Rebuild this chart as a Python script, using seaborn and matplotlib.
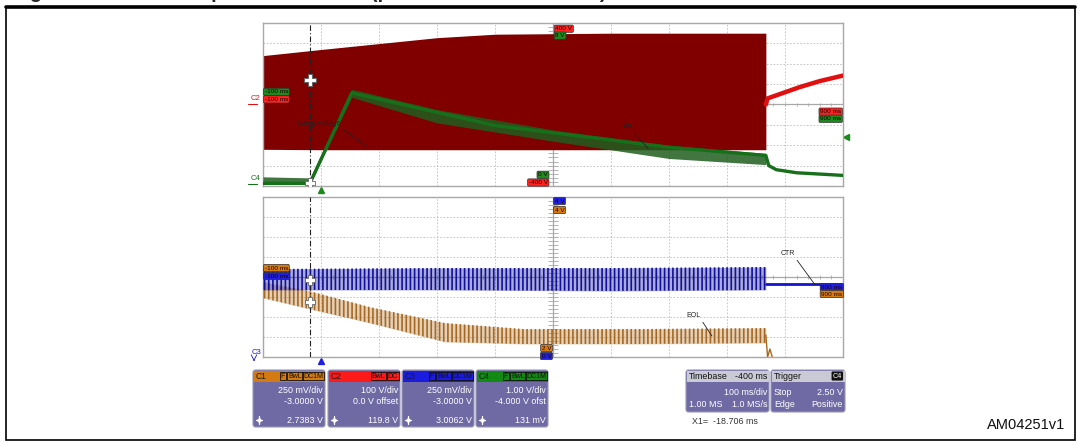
"""
    Scope capture: lamp ramp / CTR / EOL behaviour, redrawn with seaborn + matplotlib
"""
import numpy as np
import seaborn as sns
import matplotlib.pyplot as plt
from matplotlib.patches import FancyBboxPatch, Rectangle

# x = time in ms (100 ms/div, centre -400 ms), y = screen divisions (-4..4)
# upper screen
red_t = [-900, -800, -700, -600, -500, -300, -33]
red_top = [2.40, 2.70, 2.99, 3.28, 3.45, 3.50, 3.50]
red_bot = [-2.20, -2.22, -2.22, -2.22, -2.22, -2.22, -2.22]
red_tail_t = [-33, -30, 0, 25, 60, 100]
red_tail_v = [0.0, 0.30, 0.60, 0.85, 1.15, 1.42]

green_t = [-900, -819, -747, -500, -200, -33, -28, -15, 20, 100]
green_v = [-3.87, -3.87, 0.57, -1.03, -2.10, -2.50, -3.00, -3.20, -3.35, -3.48]
gnoise_t = [-900, -819, -747, -600, -400, -200, -33]
gnoise_hi = [-3.55, -3.60, 0.75, -0.25, -1.25, -2.00, -2.40]
gnoise_lo = [-3.90, -3.90, 0.35, -0.90, -1.80, -2.65, -2.95]

# lower screen
blue_t = [-900, -600, -300, -33]
blue_top = [0.40, 0.45, 0.45, 0.50]
blue_bot = [-0.65, -0.65, -0.70, -0.65]
blue_tail_t = [-33, 100]
blue_tail_v = [-0.35, -0.35]

brown_t = [-900, -820, -716, -586, -450, -250, -33]
brown_top = [-0.25, -0.70, -1.50, -2.30, -2.60, -2.60, -2.55]
brown_bot = [-1.05, -1.60, -2.30, -3.25, -3.35, -3.35, -3.30]
brown_tail_t = [-33, -30, -26, -22]
brown_tail_v = [-2.90, -4.00, -3.60, -4.00]

cursor_t = -819

# channel boxes
ch_names = ['C1', 'C2', 'C3', 'C4']
ch_flags = ['F BwL DC1M', 'BwL DC', 'F BwL DC1M', 'F BwL DC1M']
ch_scale = ['250 mV/div', '100 V/div', '250 mV/div', '1.00 V/div']
ch_offset = ['-3.0000 V', '0.0 V offset', '-3.0000 V', '-4.000 V ofst']
ch_meas = ['2.7383 V', '119.8 V', '3.0062 V', '131 mV']
ch_colors = ['#d47a12', '#ff1a1a', '#1c1ce0', '#138a13']

RED_DK = '#800000'
RED = '#e01010'
GREEN = '#16701a'
BLUE = '#10109a'
BROWN = '#a8691f'
PURPLE = '#6f6aa4'

sns.set_style('white')
plt.rcParams['font.family'] = ['Liberation Sans', 'DejaVu Sans']
plt.rcParams['hatch.linewidth'] = 1.2

W, H = 1080, 444
fig = plt.figure(figsize=(W / 100, H / 100), dpi=100)

# overlay in pixel coordinates for frame, labels and info boxes
ov = fig.add_axes([0, 0, 1, 1], zorder=0)
ov.set_xlim(0, W)
ov.set_ylim(H, 0)
ov.axis('off')


def px_axes(x0, y0, x1, y1):
    return fig.add_axes([x0 / W, 1 - y1 / H, (x1 - x0) / W, (y1 - y0) / H], zorder=2)


def screen(ax):
    ax.set_xlim(-900, 100)
    ax.set_ylim(-4, 4)
    ax.set_xticks([])
    ax.set_yticks([])
    for s in ax.spines.values():
        s.set_color('#a8a8a8')
        s.set_linewidth(1.0)
    for x in np.arange(-800, 100, 100):
        if x != -400:
            ax.axvline(x, color='#bdbdbd', lw=0.6, ls=(0, (2, 2)), zorder=0)
    for y in np.arange(-3, 4, 1):
        if y != 0:
            ax.axhline(y, color='#bdbdbd', lw=0.6, ls=(0, (2, 2)), zorder=0)
    ax.axvline(-400, color='#a8a8a8', lw=0.9, zorder=0)
    ax.axhline(0, color='#a8a8a8', lw=0.9, zorder=0)
    ax.vlines(np.arange(-880, 100, 20), -0.08, 0.08, color='#a8a8a8', lw=0.6, zorder=0)
    ax.hlines(np.arange(-3.8, 4, 0.2), -408, -392, color='#a8a8a8', lw=0.6, zorder=0)
    ax.axvline(cursor_t, color='#222222', lw=0.8, ls=(0, (5, 2, 1, 2)), zorder=6)


def tag(ax, x, y, text, fc, ha='left', tc='#1a0000'):
    ax.text(x, y, text, fontsize=4.6, color=tc, ha=ha, va='center', zorder=8,
            bbox=dict(boxstyle='round,pad=0.18', fc=fc, ec='#303030', lw=0.5))


def note(ax, text, xy, xytext):
    ax.annotate(text, xy=xy, xytext=xytext, fontsize=5, color='#222222', zorder=9,
                ha='left', va='bottom',
                arrowprops=dict(arrowstyle='-', lw=0.6, color='#222222',
                                shrinkA=0, shrinkB=0, relpos=(1, 0)))


def probe_icon(x, y):
    # small probe symbol drawn as a shape
    ov.plot([x, x], [y - 4, y + 4], color='white', lw=0.9)
    ov.plot([x - 3, x + 3], [y, y], color='white', lw=0.9)
    ov.plot([x], [y], marker='D', ms=2.2, mfc='none', mec='white', mew=0.7)


# ---------------- upper screen ----------------
top = px_axes(263, 23, 843, 186)
screen(top)
top.fill_between(red_t, red_bot, red_top, color=RED_DK, lw=0, zorder=2)
sns.lineplot(x=red_tail_t, y=red_tail_v, ax=top, color=RED, lw=3.2, estimator=None, zorder=3)
top.fill_between(gnoise_t, gnoise_lo, gnoise_hi, color='#1f5e1f', alpha=0.85, lw=0, zorder=3)
sns.lineplot(x=green_t, y=green_v, ax=top, color=GREEN, lw=2.4, estimator=None, zorder=4)
top.plot([cursor_t], [1.18], marker='P', ms=9, mfc='white', mec='#666666', mew=0.8, zorder=9)
top.plot([cursor_t], [-3.85], marker='P', ms=7, mfc='white', mec='#666666', mew=0.6, zorder=9)

tag(top, -897, 0.62, '-100 ms', '#1c8a1c')
tag(top, -897, 0.25, '-100 ms', '#ff2020')
tag(top, -396, 3.72, '400 V', '#ff2020')
tag(top, -396, 3.38, '8 V', '#1c8a1c')
tag(top, 97, -0.35, '900 ms', '#ff2020', ha='right')
tag(top, 97, -0.70, '900 ms', '#1c8a1c', ha='right')
tag(top, -409, -3.45, '0 V', '#1c8a1c', ha='right')
tag(top, -409, -3.83, '-400 V', '#ff2020', ha='right')
note(top, 'Lamp voltage', (-722, -2.05), (-840, -1.1))
note(top, 'Icn', (-236, -2.15), (-281, -1.25))

# ---------------- lower screen ----------------
bot = px_axes(263, 197, 843, 357)
screen(bot)
bot.fill_between(brown_t, brown_bot, brown_top, color=BROWN, alpha=0.3, lw=0, zorder=2)
bot.fill_between(brown_t, brown_bot, brown_top, facecolor='none', edgecolor=BROWN,
                 hatch='||||', lw=0, zorder=3)
sns.lineplot(x=brown_tail_t, y=brown_tail_v, ax=bot, color=BROWN, lw=1.0, estimator=None, zorder=3)
bot.fill_between(blue_t, blue_bot, blue_top, color=BLUE, alpha=0.35, lw=0, zorder=3)
bot.fill_between(blue_t, blue_bot, blue_top, facecolor='none', edgecolor=BLUE,
                 hatch='||||', lw=0, zorder=4)
sns.lineplot(x=blue_tail_t, y=blue_tail_v, ax=bot, color='#1414d0', lw=2.0, estimator=None, zorder=4)
bot.plot([cursor_t], [-0.15], marker='P', ms=7, mfc='white', mec='#666666', mew=0.6, zorder=9)
bot.plot([cursor_t], [-1.25], marker='P', ms=7, mfc='white', mec='#666666', mew=0.6, zorder=9)

tag(bot, -397, 3.80, '4 V', '#2020e0')
tag(bot, -397, 3.35, '4 V', '#d47a12')
tag(bot, -897, 0.45, '-100 ms', '#d47a12')
tag(bot, -897, 0.05, '-100 ms', '#2020e0')
tag(bot, 99, -0.50, '900 ms', '#2020e0', ha='right')
tag(bot, 99, -0.85, '900 ms', '#d47a12', ha='right')
tag(bot, -403, -3.55, '2 V', '#d47a12', ha='right')
tag(bot, -403, -3.95, '0 V', '#2020e0', ha='right')
note(bot, 'CTR', (52, -0.40), (-8, 1.0))
note(bot, 'EOL', (-126, -2.95), (-170, -2.1))

# ---------------- frame, title, side markers ----------------
ov.add_patch(Rectangle((6, 7), 1069, 433, fill=False, ec='black', lw=1.2))
ov.plot([6, 1075], [7, 7], color='black', lw=2.6)
# figure caption, cropped at the top edge in the reference (only descenders show)
ov.text(12, -1.5, 'Figure 31. Failed lamp shutdown test (protection at end of life)',
        fontsize=14.5, fontweight='bold', va='baseline', ha='left')

ov.text(251, 102, 'C2', color=RED, fontsize=5.5, ha='left', va='bottom')
ov.plot([248, 257], [104, 104], color=RED, lw=0.8)
ov.text(251, 182, 'C4', color=GREEN, fontsize=5.5, ha='left', va='bottom')
ov.plot([248, 257], [184, 184], color=GREEN, lw=0.8)
ov.text(252, 356, 'C3', color='#1414d0', fontsize=5.5, ha='left', va='bottom')
ov.annotate('', xy=(254, 364), xytext=(254, 357),
            arrowprops=dict(arrowstyle='->', lw=0.6, color='#1414d0'))
ov.plot([321], [190], marker='^', ms=4.5, color='#1c8a1c')
ov.plot([321], [361], marker='^', ms=4.5, color='#2020e0')
ov.plot([846], [137], marker='<', ms=4.5, color='#1c8a1c')


# ---------------- info boxes ----------------
def rbox(x0, y0, w, h, fc):
    ov.add_patch(FancyBboxPatch((x0, y0), w, h, boxstyle='round,pad=0,rounding_size=2.5',
                                fc=fc, ec='#9a98b8', lw=0.8))


box_x = [253, 328, 402, 476]
for i in range(4):
    x0 = box_x[i]
    rbox(x0, 370, 72, 57, PURPLE)
    ov.add_patch(Rectangle((x0 + 0.5, 370.5), 71, 11, fc=ch_colors[i], ec='none'))
    ov.text(x0 + 3, 376, ch_names[i], fontsize=6.2, color='#1a1a1a', va='center')
    parts = ch_flags[i].split()
    xr = x0 + 70
    for p in reversed(parts):
        ov.text(xr, 376, p, fontsize=5, color='#111111', ha='right', va='center',
                bbox=dict(boxstyle='square,pad=0.12', fc='none', ec='#111111', lw=0.6))
        xr -= 4.3 * len(p) + 4
    ov.text(x0 + 70, 390, ch_scale[i], fontsize=6.4, color='white', ha='right', va='center')
    ov.text(x0 + 70, 401, ch_offset[i], fontsize=6.4, color='white', ha='right', va='center')
    ov.text(x0 + 70, 420, ch_meas[i], fontsize=6.4, color='white', ha='right', va='center')
    probe_icon(x0 + 6, 420)

rbox(686, 370, 83, 42, PURPLE)
ov.add_patch(Rectangle((686.5, 370.5), 82, 11, fc='#cacad6', ec='none'))
ov.text(689, 376, 'Timebase', fontsize=6.4, color='#111111', va='center')
ov.text(767, 376, '-400 ms', fontsize=6.4, color='#111111', va='center', ha='right')
ov.text(767, 392, '100 ms/div', fontsize=6.4, color='white', va='center', ha='right')
ov.text(689, 404, '1.00 MS', fontsize=6.4, color='white', va='center')
ov.text(767, 404, '1.0 MS/s', fontsize=6.4, color='white', va='center', ha='right')

rbox(771, 370, 74, 42, PURPLE)
ov.add_patch(Rectangle((771.5, 370.5), 73, 11, fc='#cacad6', ec='none'))
ov.text(774, 376, 'Trigger', fontsize=6.4, color='#111111', va='center')
ov.text(842, 376, 'C4', fontsize=5.2, color='white', va='center', ha='right',
        bbox=dict(boxstyle='round,pad=0.15', fc='#111111', ec='none'))
ov.text(774, 392, 'Stop', fontsize=6.4, color='white', va='center')
ov.text(843, 392, '2.50 V', fontsize=6.4, color='white', va='center', ha='right')
ov.text(774, 404, 'Edge', fontsize=6.4, color='white', va='center')
ov.text(843, 404, 'Positive', fontsize=6.4, color='white', va='center', ha='right')

ov.text(692, 421, 'X1=  -18.706 ms', fontsize=6.4, color='#333333', va='center')
ov.text(1065, 425, 'AM04251v1', fontsize=10.5, color='#111111', va='center', ha='right')

fig.savefig('out.png', dpi=100)
